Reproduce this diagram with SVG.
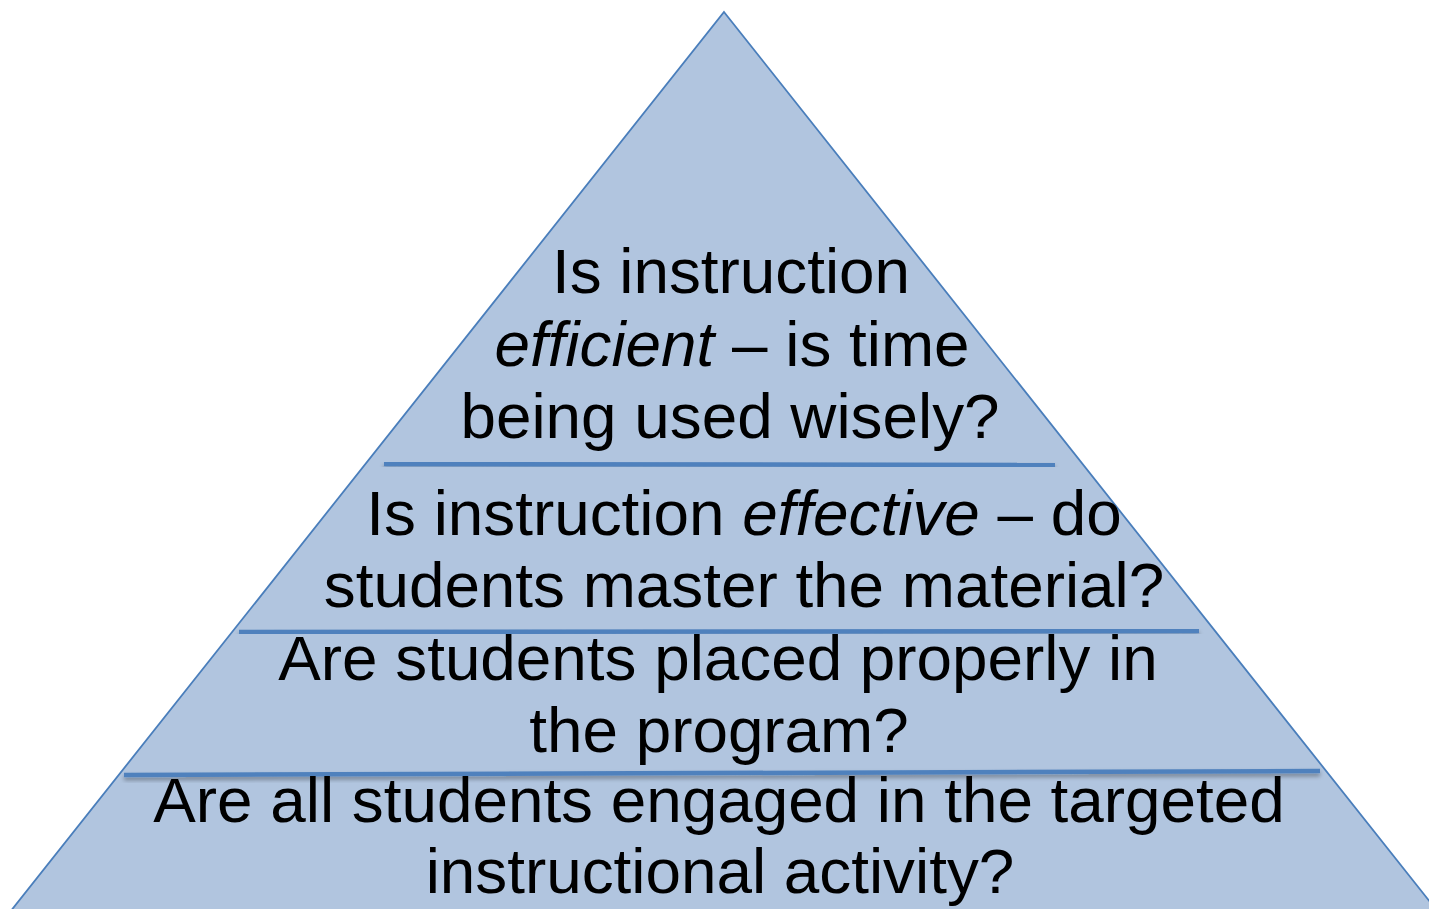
<svg xmlns="http://www.w3.org/2000/svg" width="1429" height="909" viewBox="0 0 1429 909">
<style>
.t{font-family:"Liberation Sans",Arial,sans-serif;font-size:63.8px;fill:#000;text-anchor:middle}
.div{stroke:#4F81BD;stroke-width:4.5;fill:none;filter:url(#sh)}
</style>
<defs>
<filter id="sh" x="-5%" y="-200%" width="110%" height="500%">
<feDropShadow dx="0" dy="3" stdDeviation="2" flood-color="#000" flood-opacity="0.35"/>
</filter>
</defs>
<rect width="1429" height="909" fill="#fff"/>
<g id="pyramid">
<polygon points="724,12 1438,912 10,912" fill="#B1C5DF" stroke="#4A7EBB" stroke-width="1.8"/>
</g>
<g id="connectors">
<line class="div" x1="384" y1="464" x2="1055" y2="465"/>
<line class="div" x1="239" y1="632" x2="1199" y2="631"/>
<line class="div" x1="124" y1="775" x2="1320" y2="771"/>
</g>
<g id="level1">
<text class="t" x="731" y="293">Is instruction</text>
<text class="t" x="732" y="366"><tspan font-style="italic">efficient</tspan> – is time</text>
<text class="t" x="730" y="438">being used wisely?</text>
</g>
<g id="level2">
<text class="t" x="744" y="535">Is instruction <tspan font-style="italic">effective</tspan> – do</text>
<text class="t" x="744" y="607">students master the material?</text>
</g>
<g id="level3">
<text class="t" x="718" y="680">Are students placed properly in</text>
<text class="t" x="719" y="752">the program?</text>
</g>
<g id="level4">
<text class="t" x="719" y="822">Are all students engaged in the targeted</text>
<text class="t" x="720" y="893">instructional activity?</text>
</g>
</svg>
